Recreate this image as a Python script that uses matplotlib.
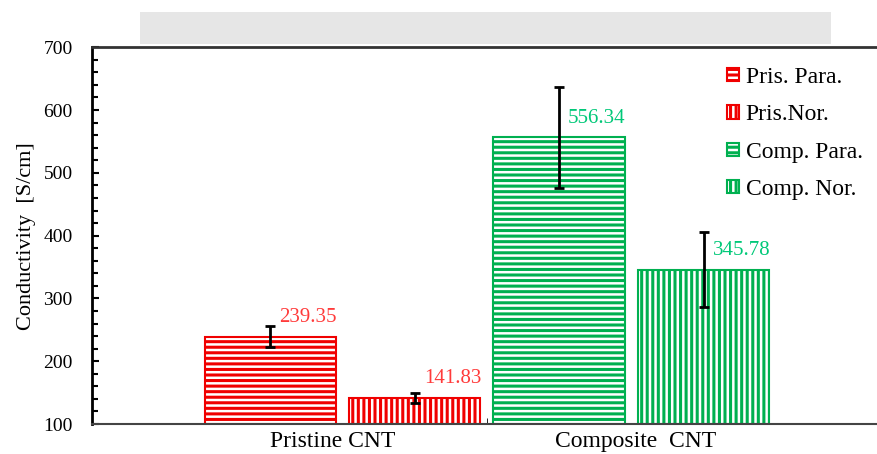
import numpy as np
import matplotlib.pyplot as plt
from matplotlib.patches import Rectangle

plt.rcParams['font.family'] = ['Liberation Serif', 'DejaVu Serif']
plt.rcParams['hatch.linewidth'] = 2.2

labels = ["Pris. Para.", "Pris.Nor.", "Comp. Para.", "Comp. Nor."]
values = [239.35, 141.83, 556.34, 345.78]
errors = [17, 8, 80, 60]
groups = ["Pristine CNT", "Composite  CNT"]

red = "#F00000"
green = "#00B050"
edge_colors = [red, red, green, green]
text_colors = ["#FF3B3B", "#FF3B3B", "#00C878", "#00C878"]
hatches = ["---", "|||", "---", "|||"]

fig = plt.figure(figsize=(8.77, 4.54), dpi=100)
ax = fig.add_axes([0.105, 0.066, 0.895, 0.830])

# gray banner at the top
fig.patches.append(Rectangle((0.16, 0.903), 0.787, 0.07, transform=fig.transFigure,
                             facecolor="#E6E6E6", edgecolor="none"))

x = np.arange(len(values))
for i in range(len(values)):
    ax.bar(x[i], values[i] - 100, bottom=100, width=0.91, facecolor="white",
           edgecolor=edge_colors[i], hatch=hatches[i], linewidth=1.5, label=labels[i])
    ax.errorbar(x[i], values[i], yerr=errors[i], color="black", capsize=3.5,
                elinewidth=2, capthick=2, fmt="none")
    ax.annotate(f"{values[i]:.2f}", (x[i] + 0.46, values[i]), xytext=(0, 7),
                textcoords="offset points", ha="right", va="bottom",
                color=text_colors[i], fontsize=15)

ax.set_xlim(-1.234, 4.2)
ax.set_ylim(100, 700)
ax.set_yticks(np.arange(100, 701, 100))
ax.set_yticks(np.arange(100, 701, 20), minor=True)
ax.tick_params(axis="y", which="both", direction="in", length=4, width=1.5, labelsize=14, pad=14)
ax.tick_params(axis="y", which="major", length=5)
ax.set_xticks([0.43, 2.53])
ax.set_xticklabels(groups, fontsize=17)
ax.tick_params(axis="x", which="major", length=0, pad=5)
ax.set_xticks([1.5], minor=True)
ax.tick_params(axis="x", which="minor", direction="in", length=4)
ax.set_ylabel("Conductivity  [S/cm]", fontsize=16)
ax.yaxis.set_label_coords(-0.072, 0.5)

ax.spines["right"].set_visible(False)
ax.spines["left"].set_linewidth(2)
ax.spines["top"].set_linewidth(2)
ax.spines["top"].set_color("#333333")
ax.spines["bottom"].set_linewidth(1.5)
ax.spines["bottom"].set_color("#444444")

ax.legend(loc="upper right", bbox_to_anchor=(1.0, 0.985), frameon=False, fontsize=17,
          handlelength=0.5, handleheight=0.5, handletextpad=0.3, labelspacing=0.69,
          borderaxespad=0.2)

fig.savefig("out.png", dpi=100)
